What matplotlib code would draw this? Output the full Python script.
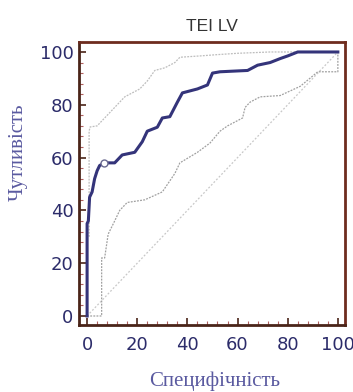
import matplotlib
matplotlib.use("Agg")
import matplotlib.pyplot as plt
from matplotlib.ticker import MultipleLocator

title = "TEI LV"
xlabel = "Специфічність"
ylabel = "Чутливість"

# main ROC curve (x = 100 - specificity, as plotted on axis)
roc_x = [0, 0, 0.5, 1, 2, 3, 4, 5, 7, 11, 14, 19, 22, 24, 28, 30, 33, 36, 38, 44, 48, 50,
         53, 64, 68, 73, 77, 80, 84, 100]
roc_y = [0, 35, 36, 45, 47, 52, 55, 57, 58, 58, 61, 62, 66, 70, 71.5, 75, 75.5, 81, 84.5,
         86, 87.5, 92, 92.5, 93, 95, 96, 97.5, 98.5, 100, 100]

# upper confidence bound
up_x = [0.8, 0.8, 1.2, 4, 8, 12, 15, 21, 24, 27, 31, 35, 37, 45, 52, 60, 73, 100]
up_y = [30, 70, 71.6, 72, 76, 80, 83, 86, 89, 93, 94, 96, 98, 98.5, 99, 99.5, 100, 100]

# lower confidence bound
lo_x = [0, 5.8, 5.8, 7, 8.4, 11, 13, 16, 23, 30, 35, 37, 44, 49, 53, 56, 62, 63, 65, 69,
        77, 85, 92, 100, 100]
lo_y = [0, 0, 22, 22, 31, 36, 40, 43, 44, 47, 54, 58, 62, 65.5, 70, 72, 75, 79, 81, 83,
        83.5, 87, 92.5, 92.5, 100]

diag_x = [0, 100]
diag_y = [0, 100]

cut_x = [6.8]
cut_y = [58]

xticks = [0, 20, 40, 60, 80, 100]
yticks = [0, 20, 40, 60, 80, 100]

fig = plt.figure(figsize=(3.53, 3.92), dpi=100)
ax = fig.add_axes([0.224, 0.171, 0.753, 0.722])

navy = "#34347a"
ax.plot(diag_x, diag_y, color="#c8c8c8", lw=0.9, ls=(0, (1.5, 1.5)), zorder=1)
ax.plot(up_x, up_y, color="#bdbdbd", lw=0.9, ls=(0, (1.5, 1)), zorder=2)
ax.plot(lo_x, lo_y, color="#a0a0a0", lw=0.9, ls=(0, (1.5, 1)), zorder=2)
ax.plot(roc_x, roc_y, color=navy, lw=2.2, zorder=3, solid_joinstyle="round")
ax.plot(cut_x, cut_y, "o", ms=5, mfc="white", mec="#6a6a90", mew=1.0, zorder=4)

ax.set_xlim(-3.2, 102.8)
ax.set_ylim(-3.4, 103.8)
ax.set_xticks(xticks)
ax.set_yticks(yticks)
ax.xaxis.set_minor_locator(MultipleLocator(4))
ax.yaxis.set_minor_locator(MultipleLocator(4))

frame = "#6e2c1e"
for s in ax.spines.values():
    s.set_color(frame)
    s.set_linewidth(2.0)
ax.spines["left"].set_color("#4a2418")
ax.spines["bottom"].set_color("#4a2418")

ax.tick_params(which="major", direction="in", length=5, width=1.2, color="#4a2418",
               labelsize=13, labelcolor="#2c2c6a", top=False, right=False)
ax.tick_params(axis="x", which="major", pad=8)
ax.tick_params(axis="y", which="major", pad=4)
ax.tick_params(which="minor", direction="in", length=3, width=0.8, color="#b06060",
               top=False, right=False)
for lab in ax.get_xticklabels() + ax.get_yticklabels():
    lab.set_family(["DejaVu Sans"])

ax.set_title(title, fontsize=12.5, color="#333333", family=["Liberation Sans", "DejaVu Sans"], pad=8)
ax.set_xlabel(xlabel, fontsize=15, color="#5a5aa0", family=["Liberation Serif", "DejaVu Serif"])
ax.set_ylabel(ylabel, fontsize=15, color="#5a5aa0", family=["Liberation Serif", "DejaVu Serif"])
ax.xaxis.set_label_coords(0.511, -0.20)
ax.yaxis.set_label_coords(-0.23, 0.61)
ax.xaxis.label.set_va("center")
ax.yaxis.label.set_va("center")

fig.savefig("out.png", dpi=100)
